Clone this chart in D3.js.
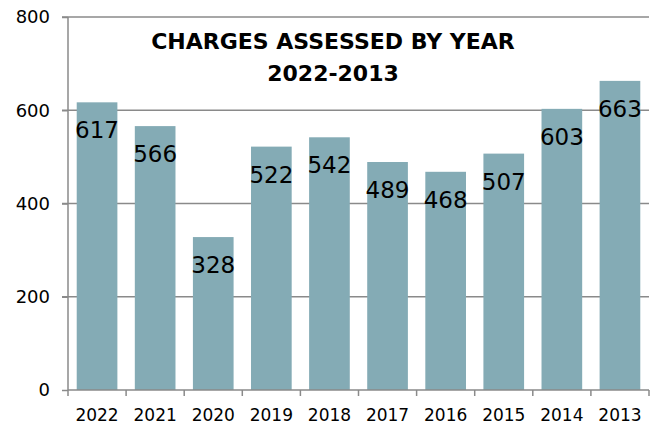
<!DOCTYPE html>
<html>
<head>
<meta charset="utf-8">
<script src="https://cdn.jsdelivr.net/npm/d3@7"></script>
<style>
  body { margin: 0; background: #fff; }
  svg { display: block; font-family: "DejaVu Sans", sans-serif; }
</style>
</head>
<body>
<svg id="chart" width="656" height="425"></svg>
<script>
"use strict";
// chart data
const years = ["2022", "2021", "2020", "2019", "2018", "2017", "2016", "2015", "2014", "2013"];
const charges = [617, 566, 328, 522, 542, 489, 468, 507, 603, 663];
const yTicks = [0, 200, 400, 600, 800];
const titleLines = ["CHARGES ASSESSED BY YEAR", "2022-2013"];

const width = 656, height = 425;
const margin = {top: 17, right: 7, bottom: 35, left: 68};
const gridColor = "#8a8a8a";
const barColor = "#84abb5";

const svg = d3.select("#chart");

const x = d3.scaleBand()
    .domain(years)
    .range([margin.left, width - margin.right])
    .paddingInner(0.3)
    .paddingOuter(0.15);

const y = d3.scaleLinear()
    .domain([0, 800])
    .range([height - margin.bottom, margin.top]);

// horizontal gridlines (behind bars)
svg.append("g")
    .selectAll("line")
    .data(yTicks.filter(d => d > 0))
    .join("line")
    .attr("x1", margin.left - 6)
    .attr("x2", width - margin.right)
    .attr("y1", d => y(d))
    .attr("y2", d => y(d))
    .attr("stroke", gridColor)
    .attr("stroke-width", 1.5);

// bars
svg.append("g")
    .selectAll("rect")
    .data(charges)
    .join("rect")
    .attr("x", (d, i) => x(years[i]))
    .attr("y", d => y(d))
    .attr("width", x.bandwidth())
    .attr("height", d => y(0) - y(d))
    .attr("fill", barColor);

// value labels inside bars
svg.append("g")
    .selectAll("text")
    .data(charges)
    .join("text")
    .attr("x", (d, i) => x(years[i]) + x.bandwidth() / 2)
    .attr("y", d => y(d) + 36)
    .attr("text-anchor", "middle")
    .style("font-size", "23px")
    .attr("fill", "#000")
    .text(d => d);

// y axis
const yAxis = svg.append("g")
    .attr("transform", "translate(" + margin.left + ",0)")
    .call(d3.axisLeft(y).tickValues(yTicks).tickSize(6).tickPadding(12));
yAxis.select(".domain").attr("stroke", gridColor).attr("stroke-width", 1.5)
    .attr("d", "M0," + y(800) + "V" + y(0));
yAxis.selectAll(".tick line").attr("stroke", gridColor).attr("stroke-width", 1.5);
yAxis.selectAll(".tick text")
    .style("font-size", "18px")
    .style("font-family", "'DejaVu Sans', sans-serif")
    .attr("fill", "#000");

// x axis: labels centred under bars, ticks on category boundaries
const xAxis = svg.append("g")
    .attr("transform", "translate(0," + y(0) + ")")
    .call(d3.axisBottom(x).tickSize(0).tickPadding(19));
xAxis.select(".domain").attr("stroke", gridColor).attr("stroke-width", 1.5)
    .attr("d", "M" + x.range()[0] + ",0H" + x.range()[1]);
xAxis.selectAll(".tick text")
    .style("font-size", "17px")
    .style("font-family", "'DejaVu Sans', sans-serif")
    .attr("fill", "#000");

const half = x.step() * x.paddingInner() / 2;
const bounds = years.map(d => x(d) - half).concat([x(years[years.length - 1]) + x.bandwidth() + half]);
xAxis.append("g")
    .selectAll("line")
    .data(bounds)
    .join("line")
    .attr("x1", d => d)
    .attr("x2", d => d)
    .attr("y1", 0)
    .attr("y2", 6)
    .attr("stroke", gridColor)
    .attr("stroke-width", 1.5);

// title
svg.append("g")
    .selectAll("text")
    .data(titleLines)
    .join("text")
    .attr("x", 333)
    .attr("y", (d, i) => 49 + i * 32)
    .attr("text-anchor", "middle")
    .style("font-size", "22px")
    .attr("font-weight", "bold")
    .attr("fill", "#000")
    .text(d => d);
</script>
</body>
</html>
